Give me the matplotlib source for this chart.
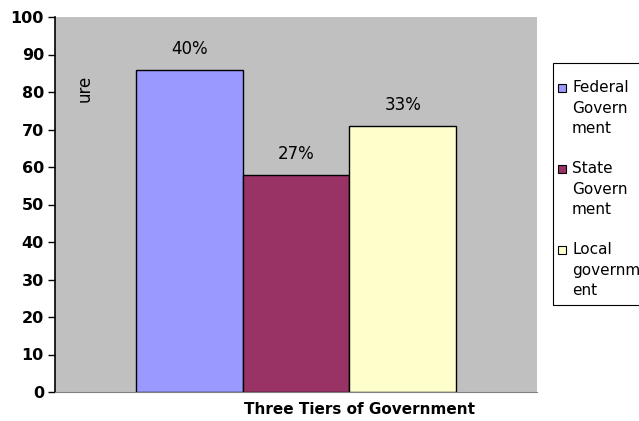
import numpy as np
import matplotlib.pyplot as plt
from matplotlib.patches import Rectangle

plt.rcParams['font.family'] = ['DejaVu Sans']

# data
tiers = ['Federal\nGovern\nment', 'State\nGovern\nment', 'Local\ngovernm\nent']
heights = [86, 58, 71]
pct_labels = ['40%', '27%', '33%']
colors = ['#9999FF', '#993366', '#FFFFCC']

W, H = 639, 421
fig = plt.figure(figsize=(W / 100, H / 100), dpi=100)
ax = fig.add_axes([55/W, 29/H, 482/W, 375/H])
ax.set_facecolor('#C0C0C0')

x = np.arange(len(heights))
ax.bar(x, heights, width=1.0, color=colors, edgecolor='black', linewidth=1.0)
for xi, h, lab in zip(x, heights, pct_labels):
    ax.text(xi, h + 3, lab, ha='center', va='bottom', fontsize=12)

ax.set_xlim(-1.26, 3.26)
ax.set_ylim(0, 100)
ax.set_yticks(np.arange(0, 101, 10))
ax.set_xticks([])
for lbl in ax.get_yticklabels():
    lbl.set_fontweight('bold')
ax.tick_params(axis='y', labelsize=11.5, length=5, width=1, direction='out', pad=3)

for s in ['top', 'right']:
    ax.spines[s].set_visible(False)
ax.spines['bottom'].set_color('#808080')
ax.spines['left'].set_linewidth(1.2)

ax.text(-0.98, 81, 'ure', rotation=90, ha='center', va='center', fontsize=12)
fig.text(360/W, 1 - 410/H, 'Three Tiers of Government', ha='center', va='center',
         fontsize=11, fontweight='bold')

# legend box drawn by hand so the swatch sits on the first text line
fig.add_artist(Rectangle((553/W, 1 - 305/H), 100/W, 242/H, transform=fig.transFigure,
                         facecolor='white', edgecolor='black', linewidth=0.8))
for i, (c, lab) in enumerate(zip(colors, tiers)):
    yc = 88 + i * 81
    fig.add_artist(Rectangle((558/W, 1 - (yc + 4)/H), 8/W, 8/H, transform=fig.transFigure,
                             facecolor=c, edgecolor='black', linewidth=0.8))
    fig.text(572/W, 1 - (yc - 8)/H, lab, ha='left', va='top', fontsize=11, linespacing=1.46)

fig.savefig('out.png', dpi=100)
